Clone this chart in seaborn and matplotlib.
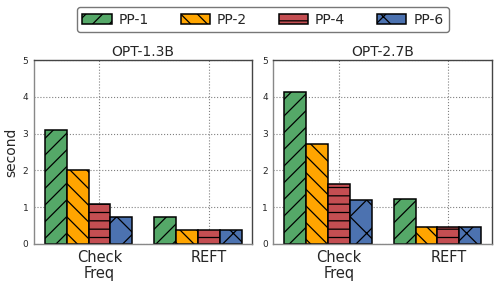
import pandas as pd
import seaborn as sns
import matplotlib.pyplot as plt

models = ['OPT-1.3B', 'OPT-2.7B']
methods = ['Check\nFreq', 'REFT']
configs = ['PP-1', 'PP-2', 'PP-4', 'PP-6']

opt13_checkfreq = [3.1, 2.02, 1.1, 0.72]
opt13_reft = [0.72, 0.37, 0.37, 0.38]
opt27_checkfreq = [4.12, 2.71, 1.62, 1.2]
opt27_reft = [1.22, 0.45, 0.46, 0.46]

colors = ['#55A868', '#FFA500', '#C44E52', '#4C72B0']
hatches = ['//', '\\\\', '--', 'x']

values = {
    'OPT-1.3B': [opt13_checkfreq, opt13_reft],
    'OPT-2.7B': [opt27_checkfreq, opt27_reft],
}

rows = []
for model in models:
    for m_idx, method in enumerate(methods):
        for c_idx, cfg in enumerate(configs):
            rows.append({'model': model, 'pos': m_idx + (c_idx - 2) * 0.2,
                         'config': cfg, 'second': values[model][m_idx][c_idx]})
df = pd.DataFrame(rows)

sns.set_style('white')
plt.rcParams['font.family'] = ['DejaVu Sans']
plt.rcParams['hatch.linewidth'] = 0.9

fig, axes = plt.subplots(1, 2, figsize=(4.98, 2.86), dpi=100)
fig.subplots_adjust(left=0.068, right=0.988, bottom=0.147, top=0.79, wspace=0.096)

for ax, model in zip(axes, models):
    sub = df[df['model'] == model]
    sns.barplot(data=sub, x='pos', y='second', hue='config', hue_order=configs,
                palette=colors, saturation=1, native_scale=True, dodge=False, width=1.0,
                edgecolor='black', linewidth=1.1, ax=ax, legend=False)
    for cont, h in zip(ax.containers, hatches):
        for p in cont:
            p.set_hatch(h)
    ax.set_ylim(0, 5)
    ax.set_xlim(-0.6, 1.4)
    ax.set_yticks(range(6))
    ax.set_xticks([0, 1])
    ax.set_xticklabels(methods, fontsize=10.5, linespacing=1.1)
    ax.tick_params(axis='y', labelsize=6.5, length=2, pad=2)
    ax.tick_params(axis='x', length=0, pad=4)
    ax.grid(True, linestyle=':', color='gray', linewidth=0.8)
    ax.set_axisbelow(True)
    ax.set_title(model, fontsize=10, pad=3)
    ax.set_xlabel('')
    for s in ax.spines.values():
        s.set_color('#444444')
        s.set_linewidth(1.0)
    ax.spines['left'].set_color('#888888')
    ax.spines['bottom'].set_color('#888888')
    ax.set_ylabel('')

axes[0].set_ylabel('second', fontsize=10, labelpad=3)

handles = [c[0] for c in axes[0].containers]
fig.legend(handles, configs, loc='upper center', ncol=4, fontsize=10,
           bbox_to_anchor=(0.528, 0.985), frameon=True, edgecolor='#555555',
           handlelength=2.1, handletextpad=0.5, columnspacing=2.3,
           borderaxespad=0.2, borderpad=0.4)

fig.savefig('out.png', dpi=100)
